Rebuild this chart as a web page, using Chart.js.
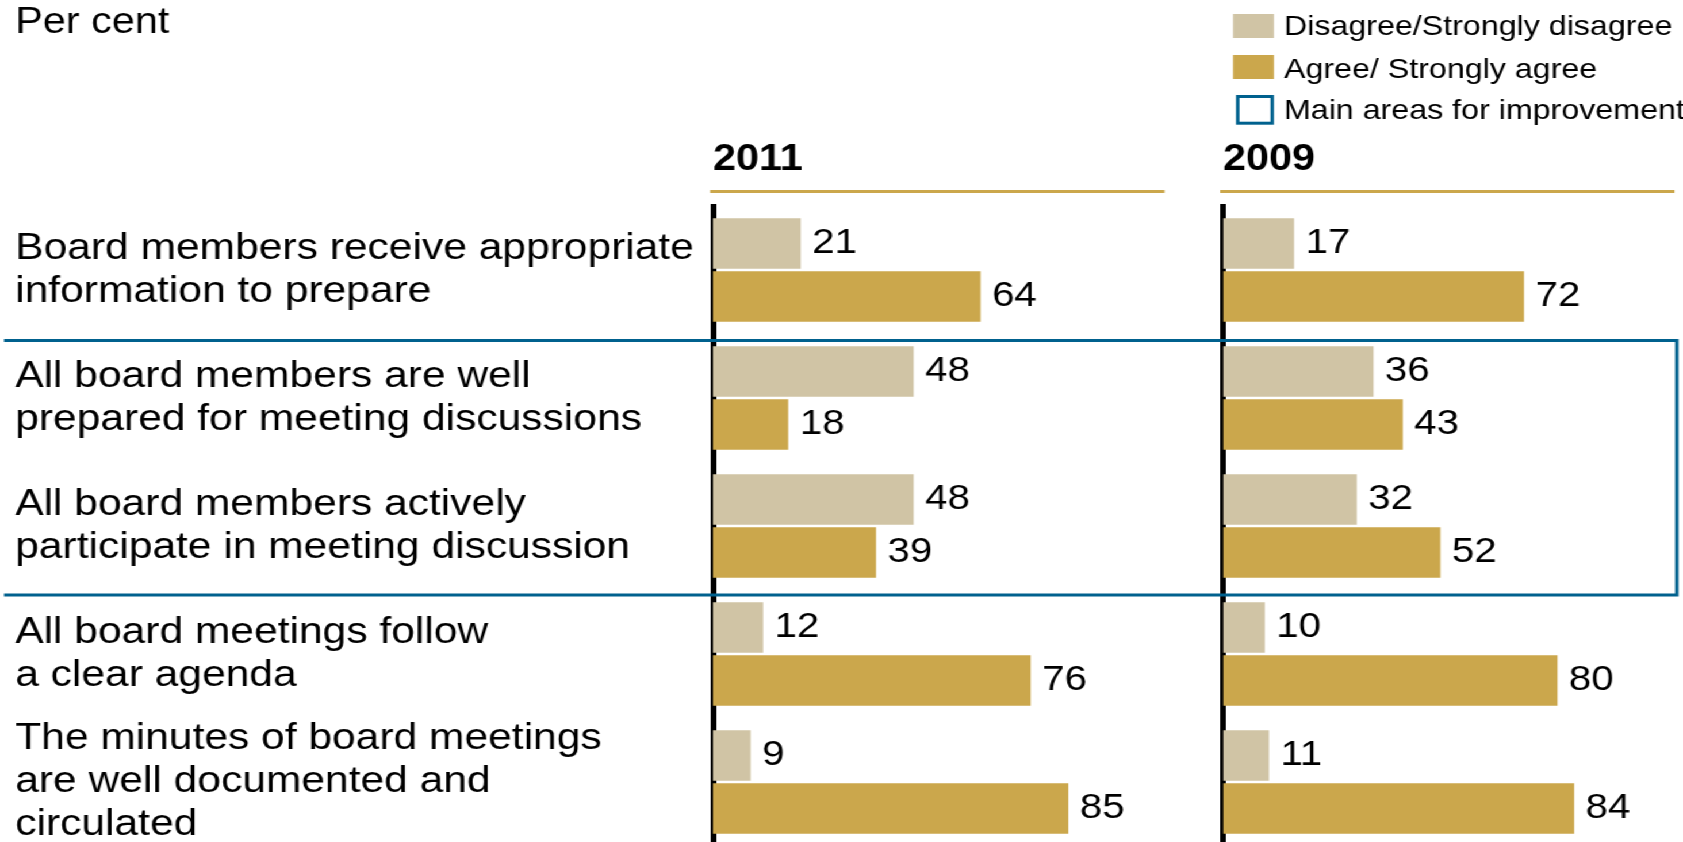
<!DOCTYPE html>
<html>
<head>
<meta charset="utf-8">
<script src="https://cdn.jsdelivr.net/npm/chart.js@4/dist/chart.umd.min.js"></script>
<style>
  html, body { margin: 0; padding: 0; background: #fff; width: 1683px; height: 842px; overflow: hidden; }
  #frame { position: relative; width: 1683px; height: 842px; overflow: hidden; }
  /* the whole figure is set in a horizontally widened type */
  #stretch { position: absolute; left: 0; top: 0; width: 1464px; height: 850px; transform: scaleX(1.15); transform-origin: 0 0; }
  #stretch canvas { position: absolute; left: 0; top: 0; }
</style>
</head>
<body>
<div id="frame">
  <div id="stretch">
    <canvas id="c2011" width="1464" height="850"></canvas>
    <canvas id="c2009" width="1464" height="850"></canvas>
  </div>
</div>
<script>
// ---- data ----
const categories = [
  ['Board members receive appropriate', 'information to prepare'],
  ['All board members are well', 'prepared for meeting discussions'],
  ['All board members actively', 'participate in meeting discussion'],
  ['All board meetings follow', 'a clear agenda'],
  ['The minutes of board meetings', 'are well documented and', 'circulated']
];
const disagree2011 = [21, 48, 48, 12, 9];
const agree2011    = [64, 18, 39, 76, 85];
const disagree2009 = [17, 36, 32, 10, 11];
const agree2009    = [72, 43, 52, 80, 84];
const years = ['2011', '2009'];
const seriesNames = ['Disagree/Strongly disagree', 'Agree/ Strongly agree'];
const boxLabel = 'Main areas for improvement';
const improvementRows = [1, 2];
const unitLabel = 'Per cent';
const axisMax = 108;

// ---- style ----
const FONT = "'Liberation Sans', Arial, Helvetica, sans-serif";
const BEIGE = '#D0C4A5';
const GOLD = '#CBA74C';
const BLUE = '#00618E';
const INK = '#000000';

const W = 1464;
const PLOT_TOP = 206;
const TITLE_SIZE = 36, TITLE_LH = 1.2, TITLE_PAD = { top: 1, bottom: 10 };
const TITLE_H = TITLE_SIZE * TITLE_LH + TITLE_PAD.top + TITLE_PAD.bottom;
const YEAR_MID = 160;
const XAXIS_H = PLOT_TOP - TITLE_H;
const YEAR_PAD_TOP = YEAR_MID - TITLE_SIZE * TITLE_LH / 2 - TITLE_H;
const PANEL_W = 392.6;
const LEFT_PANEL_X = 620;
const RIGHT_PANEL_X = 1063.5;

Chart.defaults.font.family = FONT;
Chart.defaults.color = INK;

// value printed just past the end of each bar
const valueLabels = {
  id: 'valueLabels',
  afterDatasetsDraw(chart) {
    const ctx = chart.ctx;
    ctx.save();
    ctx.font = '35px ' + FONT;
    ctx.fillStyle = INK;
    ctx.textAlign = 'left';
    ctx.textBaseline = 'middle';
    chart.data.datasets.forEach((ds, i) => {
      chart.getDatasetMeta(i).data.forEach((bar, j) => {
        ctx.fillText(String(ds.data[j]), bar.x + 10, bar.y);
      });
    });
    ctx.restore();
  }
};

// gold rule under each year heading
const yearRule = {
  id: 'yearRule',
  afterDraw(chart) {
    const { ctx, chartArea: a } = chart;
    ctx.save();
    ctx.fillStyle = GOLD;
    ctx.fillRect(a.left - 2.5, a.top - 16, a.right - a.left + 2.5, 3);
    ctx.restore();
  }
};

// outline around the rows flagged for improvement, plus the key
const overlay = {
  id: 'overlay',
  afterDraw(chart) {
    const { ctx, chartArea: a } = chart;
    const y = chart.scales.y;
    const top = y.getPixelForValue(improvementRows[0] - 0.45);
    const bottom = y.getPixelForValue(improvementRows[improvementRows.length - 1] + 0.54);
    const right = a.right + 2;
    ctx.save();
    ctx.strokeStyle = BLUE;
    ctx.lineWidth = 3;
    ctx.beginPath();
    ctx.moveTo(3.5, top);
    ctx.lineTo(right, top);
    ctx.lineTo(right, bottom);
    ctx.lineTo(3.5, bottom);
    ctx.stroke();

    // key
    ctx.font = '28px ' + FONT;
    ctx.textAlign = 'left';
    ctx.textBaseline = 'alphabetic';
    const keyX = 1072.2, keyW = 35.6, textX = 1116.5;
    ctx.fillStyle = BEIGE;
    ctx.fillRect(keyX, 14, keyW, 24);
    ctx.fillStyle = GOLD;
    ctx.fillRect(keyX, 55, keyW, 24);
    ctx.strokeStyle = BLUE;
    ctx.lineWidth = 3;
    ctx.strokeRect(1076.3, 96.5, 30, 26.7);
    ctx.fillStyle = INK;
    ctx.fillText(seriesNames[0], textX, 35);
    ctx.fillText(seriesNames[1], textX, 78);
    ctx.fillText(boxLabel, textX, 119);
    ctx.restore();
  }
};

function panel(canvasId, year, disagree, agree, isFirst) {
  const panelX = isFirst ? LEFT_PANEL_X : RIGHT_PANEL_X;
  const padLeft = isFirst ? 13.2 : 0;
  return new Chart(document.getElementById(canvasId), {
    type: 'bar',
    data: {
      labels: categories,
      datasets: [
        { label: seriesNames[0], data: disagree, backgroundColor: BEIGE },
        { label: seriesNames[1], data: agree, backgroundColor: GOLD }
      ]
    },
    options: {
      indexAxis: 'y',
      responsive: false,
      animation: false,
      events: [],
      categoryPercentage: 0.83,
      barPercentage: 0.95,
      layout: {
        padding: {
          left: padLeft,
          right: W - panelX - PANEL_W,
          top: isFirst ? 0 : TITLE_H,
          bottom: 4
        }
      },
      plugins: {
        legend: { display: false },
        tooltip: { enabled: false },
        title: {
          display: isFirst,
          text: unitLabel,
          align: 'start',
          color: INK,
          font: { size: TITLE_SIZE, weight: 'normal', lineHeight: TITLE_LH },
          padding: TITLE_PAD
        }
      },
      scales: {
        x: {
          position: 'top',
          min: 0,
          max: axisMax,
          grid: { display: false },
          border: { display: false },
          ticks: { display: false },
          title: {
            display: true,
            text: year,
            align: 'start',
            color: INK,
            font: { size: 36, weight: 'bold', lineHeight: 1.2 },
            padding: { top: YEAR_PAD_TOP, bottom: 0 }
          },
          afterFit(s) { s.height = XAXIS_H; s.paddingLeft = 0; s.paddingRight = 0; }
        },
        y: {
          position: 'left',
          offset: true,
          grid: { display: false },
          border: { display: true, color: INK, width: 5 },
          ticks: {
            display: isFirst,
            crossAlign: 'far',
            autoSkip: false,
            padding: 0,
            color: INK,
            font: { size: 37, lineHeight: 1.165 }
          },
          afterFit(s) { s.width = panelX - padLeft; s.paddingTop = 0; s.paddingBottom = 0; }
        }
      }
    },
    plugins: isFirst ? [valueLabels, yearRule] : [valueLabels, yearRule, overlay]
  });
}

panel('c2011', years[0], disagree2011, agree2011, true);
panel('c2009', years[1], disagree2009, agree2009, false);
</script>
</body>
</html>
